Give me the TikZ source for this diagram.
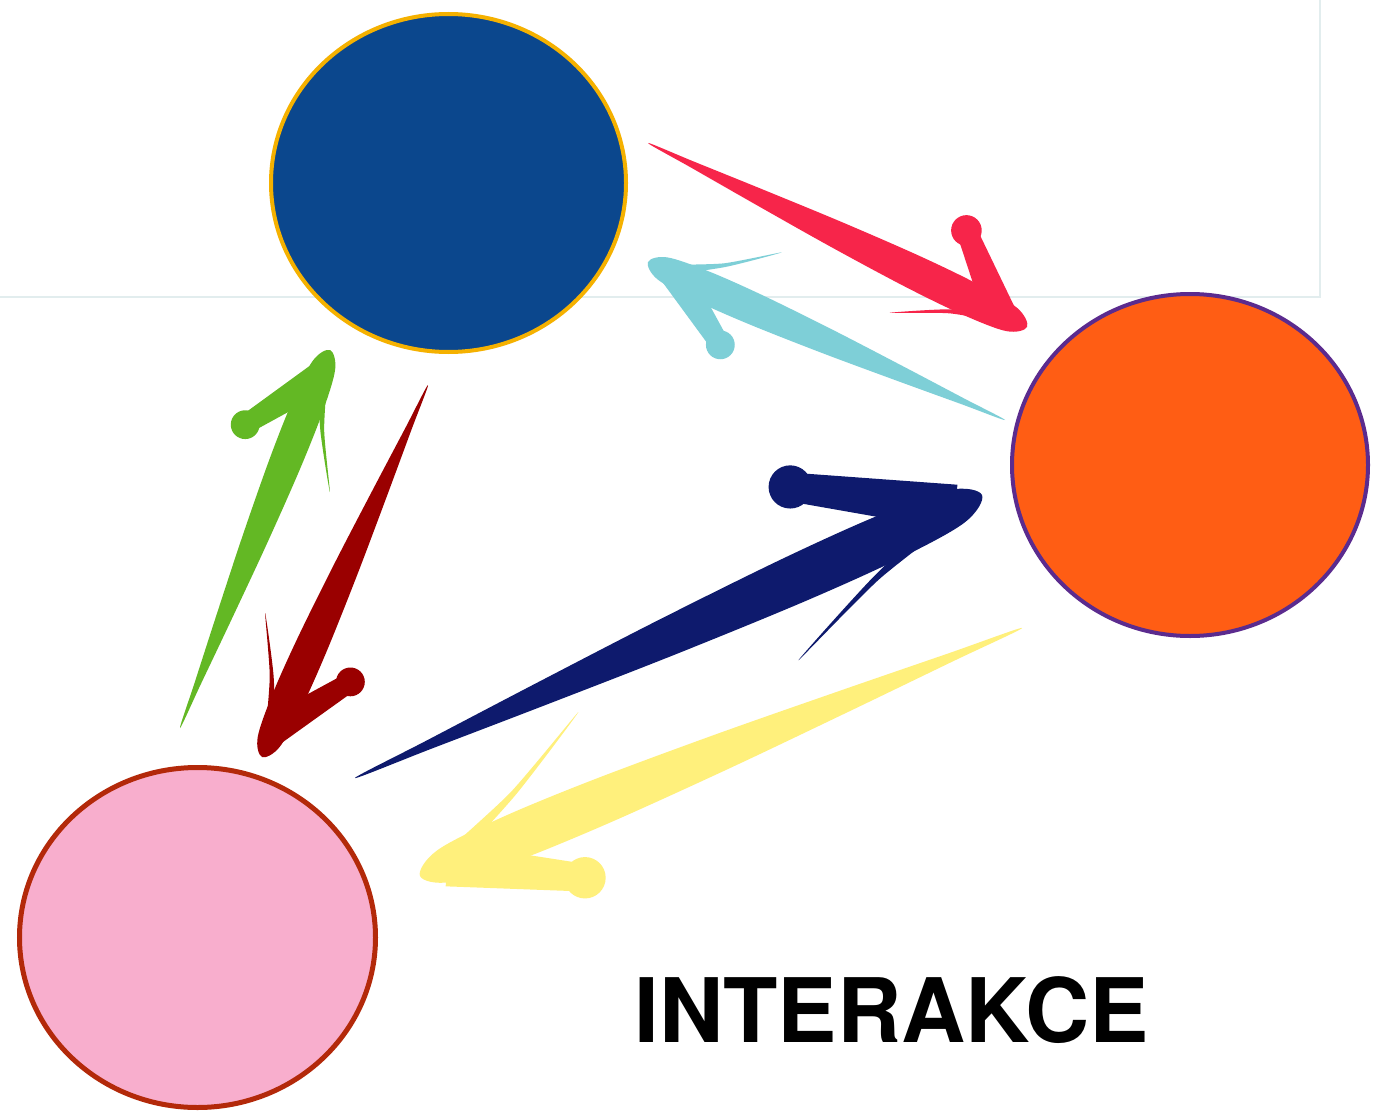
\documentclass[tikz,border=0pt]{standalone}
\usepackage{fontspec}
\newfontfamily\herosfont{TeX Gyre Heros}
\usetikzlibrary{calc,shapes.geometric}
\definecolor{blueFill}{HTML}{0B478D}
\definecolor{blueRim}{HTML}{F5B100}
\definecolor{orangeFill}{HTML}{FF5D14}
\definecolor{orangeRim}{HTML}{5B2B8E}
\definecolor{pinkFill}{HTML}{F8AECD}
\definecolor{pinkRim}{HTML}{B3290A}
\definecolor{arRed}{HTML}{F7254A}
\definecolor{arCyan}{HTML}{7ECFD7}
\definecolor{arGreen}{HTML}{63B824}
\definecolor{arDark}{HTML}{9A0000}
\definecolor{arNavy}{HTML}{0E1A6D}
\definecolor{arYellow}{HTML}{FFF07C}
\definecolor{frameLine}{HTML}{E2EDEE}
% #1 colour, #2 tail, #3 tip, #4 half width, #5/#6 thick barb length/angle, #7/#8 thin barb length/angle
\newcommand{\brusharrow}[8]{%
  \foreach \f/\k [count=\i] in {0.04/0.75,0.15/1.0,0.3/1.0,0.5/0.8,0.7/0.5,0.88/0.2}{%
    \coordinate (s\i) at ($(#3)!\f!(#2)$);
    \coordinate (a\i) at ($(s\i)!\k*#4pt!90:(#2)$);
    \coordinate (b\i) at ($(s\i)!\k*#4pt!-90:(#2)$);
  }
  \fill[#1] plot[smooth cycle, tension=0.55] coordinates {(#3) (a1) (a2) (a3) (a4) (a5) (a6) (#2) (b6) (b5) (b4) (b3) (b2) (b1)};
  % thick barb with blob
  \coordinate (r1) at ($(#3)!30pt!(#2)$);
  \coordinate (e1) at ($(#3)!#5pt!#6:(#2)$);
  \coordinate (r1a) at ($(r1)!0.95*#4pt!90:(e1)$);
  \coordinate (r1b) at ($(r1)!0.95*#4pt!-90:(e1)$);
  \coordinate (e1a) at ($(e1)!0.6*#4pt!-90:(r1)$);
  \coordinate (e1b) at ($(e1)!0.6*#4pt!90:(r1)$);
  \fill[#1] (r1a) -- (e1a) -- (e1b) -- (r1b) -- cycle;
  \fill[#1] (e1) circle[radius=0.9*#4pt];
  % thin barb, slightly bowed
  \coordinate (r2) at ($(#3)!20pt!(#2)$);
  \coordinate (e2) at ($(#3)!#7pt!#8:(#2)$);
  \coordinate (m2) at ($(r2)!0.5!(e2)$);
  \coordinate (m2c) at ($(m2)!0.25*#4pt!-90:(e2)$);
  \coordinate (r2a) at ($(r2)!0.28*#4pt!90:(e2)$);
  \coordinate (r2b) at ($(r2)!0.28*#4pt!-90:(e2)$);
  \coordinate (m2a) at ($(m2c)!0.12*#4pt!90:(e2)$);
  \coordinate (m2b) at ($(m2c)!0.12*#4pt!-90:(e2)$);
  \fill[#1] plot[smooth cycle, tension=0.4] coordinates {(r2a) (m2a) (e2) (m2b) (r2b)};
}
\begin{document}
\begin{tikzpicture}[x=1pt,y=-1pt,
  bubble/.style={ellipse, inner sep=0pt, line width=4pt}]
\useasboundingbox (0,0) rectangle (1376,1113);
\fill[white] (0,0) rectangle (1376,1113);
% faint frame
\draw[frameLine, line width=2pt] (0,297) -- (1320,297) -- (1320,0);
% circles
\node[bubble, fill=blueFill, draw=blueRim, minimum width=355pt, minimum height=338pt] (blue) at (448.5,183) {};
\node[bubble, fill=orangeFill, draw=orangeRim, minimum width=356pt, minimum height=342pt] (orange) at (1190,465) {};
\node[bubble, fill=pinkFill, draw=pinkRim, line width=5pt, minimum width=356pt, minimum height=340pt] (pink) at (197.5,937.5) {};
% arrow end points
\coordinate (redT) at (648,143);   \coordinate (redH) at (1027,327);
\coordinate (cyanT) at (1005,420); \coordinate (cyanH) at (648,262);
\coordinate (greenT) at (180,728); \coordinate (greenH) at (330,350);
\coordinate (darkT) at (428,385);  \coordinate (darkH) at (262,757);
\coordinate (navyT) at (355,778);  \coordinate (navyH) at (982,495);
\coordinate (yelT) at (1022,628);  \coordinate (yelH) at (420,876);
% arrows
\brusharrow{arRed}{redT}{redH}{17}{114}{-32}{138}{20}
\brusharrow{arCyan}{cyanT}{cyanH}{16}{110}{-25}{134}{28}
\brusharrow{arGreen}{greenT}{greenH}{16}{113}{-27}{142}{21.6}
\brusharrow{arDark}{darkT}{darkH}{16}{116}{-25.6}{144}{22.8}
\brusharrow{arNavy}{navyT}{navyH}{24}{192}{-26.7}{247}{17.7}
\brusharrow{arYellow}{yelT}{yelH}{23}{165}{-23}{228}{23.6}
% label
\node[inner sep=0pt, anchor=center] (title) at (891.5,1010.5) {\herosfont\bfseries\fontsize{89}{100}\selectfont INTERAKCE};
\end{tikzpicture}
\end{document}
